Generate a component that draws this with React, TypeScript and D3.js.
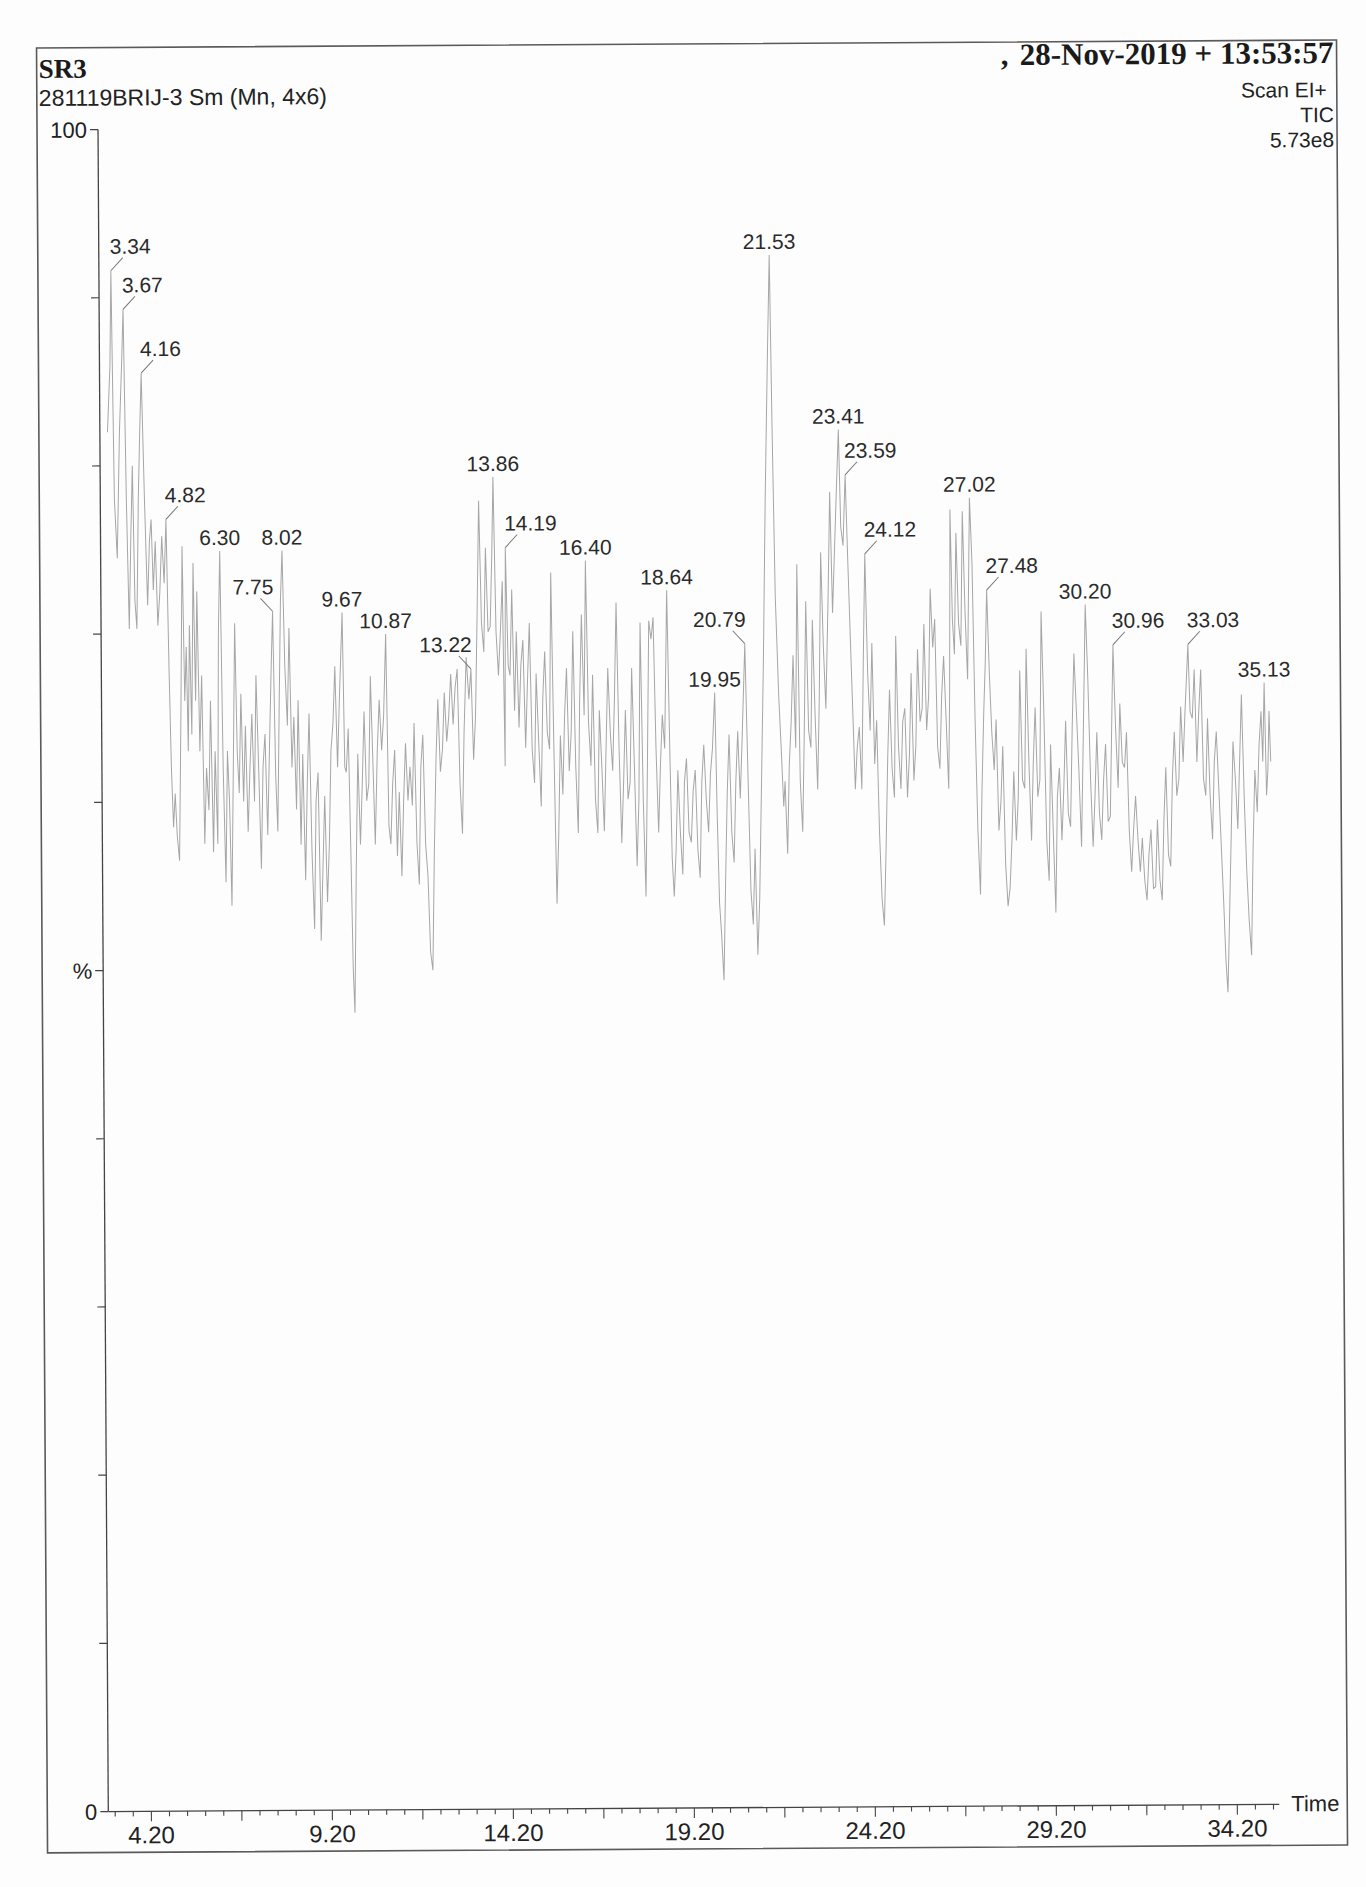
import React from 'react';
import * as d3 from 'd3';

const W = 1366, H = 1887;

// header texts
const titleText = 'SR3';
const sampleText = '281119BRIJ-3 Sm (Mn, 4x6)';
const dateText = '28-Nov-2019 + 13:53:57';
const scanLines = ['Scan EI+', 'TIC', '5.73e8'];

// axes
const xTickLabels = [4.2, 9.2, 14.2, 19.2, 24.2, 29.2, 34.2];
const yTicks = [0, 10, 20, 30, 40, 50, 60, 70, 80, 90, 100];
const yTickLabels = [
  { v: 0, text: '0' },
  { v: 50, text: '%' },
  { v: 100, text: '100' },
];

// labelled peaks: retention time, % height, where the label sits
const peakLabels = [
  { t: 3.34, v: 91.6, side: 'r' },
  { t: 3.67, v: 89.3, side: 'r' },
  { t: 4.16, v: 85.5, side: 'r' },
  { t: 4.82, v: 76.8, side: 'r' },
  { t: 6.30, v: 74.9, side: 'c' },
  { t: 7.75, v: 71.3, side: 'l' },
  { t: 8.02, v: 74.9, side: 'c' },
  { t: 9.67, v: 71.2, side: 'c' },
  { t: 10.87, v: 69.9, side: 'c' },
  { t: 13.22, v: 67.8, side: 'l' },
  { t: 13.86, v: 79.2, side: 'c' },
  { t: 14.19, v: 75.0, side: 'r' },
  { t: 16.40, v: 74.2, side: 'c' },
  { t: 18.64, v: 72.4, side: 'c' },
  { t: 19.95, v: 66.3, side: 'c' },
  { t: 20.79, v: 69.2, side: 'l' },
  { t: 21.53, v: 92.3, side: 'c' },
  { t: 23.41, v: 81.9, side: 'c' },
  { t: 23.59, v: 79.2, side: 'r' },
  { t: 24.12, v: 74.5, side: 'r' },
  { t: 27.02, v: 77.8, side: 'c' },
  { t: 27.48, v: 72.3, side: 'r' },
  { t: 30.20, v: 71.4, side: 'c' },
  { t: 30.96, v: 69.0, side: 'r' },
  { t: 33.03, v: 69.0, side: 'r' },
  { t: 35.13, v: 66.7, side: 'c' },
];

// TIC trace, [time, %]
const trace03to07 = [
  [3.22, 82], [3.30, 86], [3.34, 91.6], [3.40, 78], [3.47, 74.5], [3.55, 82], [3.62, 86], [3.67, 89.3],
  [3.73, 78], [3.79, 70.3], [3.85, 76], [3.90, 80], [3.95, 72], [4.00, 70.3], [4.06, 78], [4.11, 82],
  [4.16, 85.5], [4.23, 78], [4.30, 71.7], [4.36, 75.5], [4.41, 76.8], [4.46, 72.6], [4.52, 75.5], [4.58, 70.5],
  [4.64, 72.5], [4.70, 75.8], [4.76, 73], [4.82, 76.8], [4.88, 68], [4.93, 62], [4.98, 58.5], [5.03, 60.5],
  [5.08, 58], [5.14, 56.5], [5.20, 65], [5.26, 75.2], [5.31, 66], [5.36, 69.2], [5.40, 63], [5.45, 70.5],
  [5.50, 64], [5.56, 74.2], [5.61, 66], [5.66, 72.5], [5.72, 63], [5.78, 67.5], [5.84, 57.5], [5.90, 62],
  [5.96, 59.5], [6.02, 66], [6.08, 57], [6.14, 63], [6.20, 57.5], [6.25, 70], [6.30, 74.9], [6.36, 62],
  [6.42, 55.2], [6.48, 63], [6.53, 60], [6.58, 53.8], [6.64, 62], [6.70, 70.6], [6.75, 63], [6.80, 60.5],
  [6.86, 66.4], [6.92, 60], [6.98, 64.5],
];
const trace07to11 = [
  [7.04, 58.2], [7.10, 62], [7.16, 65.2], [7.22, 60], [7.28, 67.5], [7.34, 62], [7.40, 56], [7.46, 62],
  [7.52, 64], [7.58, 58], [7.64, 63], [7.70, 67.8], [7.75, 71.3], [7.81, 61.5], [7.86, 58.2], [7.92, 66],
  [7.97, 72], [8.02, 74.9], [8.08, 68], [8.14, 64.5], [8.20, 70.3], [8.26, 62], [8.32, 65], [8.38, 59.5],
  [8.44, 66], [8.50, 57.4], [8.56, 62.8], [8.62, 55.3], [8.68, 61], [8.74, 65.2], [8.80, 57], [8.86, 52.4],
  [8.92, 60], [8.98, 61.7], [9.04, 51.7], [9.10, 56], [9.16, 60.3], [9.22, 54], [9.28, 57.4], [9.34, 63],
  [9.40, 64.6], [9.46, 68], [9.52, 62], [9.58, 66], [9.67, 71.2], [9.72, 62], [9.76, 61.7], [9.82, 64.3],
  [9.87, 57.4], [9.92, 50], [9.96, 47.4], [10.02, 56], [10.08, 62.8], [10.14, 57.4], [10.20, 61], [10.26, 65.3],
  [10.32, 60], [10.38, 61], [10.44, 67.4], [10.50, 62], [10.55, 57.4], [10.62, 63], [10.68, 66], [10.74, 63],
  [10.80, 65], [10.87, 69.9], [10.93, 58.5], [10.98, 57.4],
];
const trace11to15 = [
  [11.04, 61], [11.10, 63], [11.16, 56.7], [11.22, 60.5], [11.28, 55.5], [11.34, 60], [11.40, 63.4], [11.46, 60],
  [11.52, 62], [11.58, 59.7], [11.64, 64.6], [11.70, 57.5], [11.76, 55], [11.82, 62], [11.88, 63.9], [11.94, 57.4],
  [12.00, 55.5], [12.06, 51], [12.12, 49.9], [12.18, 57], [12.24, 62.4], [12.30, 66], [12.36, 61.7], [12.42, 63],
  [12.48, 66.4], [12.54, 63.5], [12.60, 65], [12.66, 67.5], [12.72, 64.5], [12.78, 66.7], [12.84, 67.8], [12.90, 61],
  [12.96, 58], [13.02, 64], [13.09, 68.5], [13.16, 66], [13.22, 67.8], [13.28, 62.4], [13.34, 65], [13.40, 71],
  [13.46, 77.8], [13.52, 70.5], [13.58, 68.8], [13.64, 75], [13.70, 70], [13.76, 70.3], [13.82, 75], [13.86, 79.2],
  [13.92, 70], [13.98, 67.4], [14.04, 70], [14.10, 73], [14.15, 62], [14.19, 75], [14.25, 68], [14.30, 67.4],
  [14.36, 72.5], [14.42, 65.3], [14.48, 70], [14.54, 64.3], [14.60, 68], [14.66, 69.5], [14.72, 63.1], [14.78, 67],
  [14.84, 70.5], [14.90, 63], [14.96, 61],
];
const trace15to19 = [
  [15.02, 67.5], [15.08, 63.5], [15.14, 59.6], [15.20, 66], [15.26, 68.8], [15.32, 64], [15.38, 63], [15.44, 73.5],
  [15.50, 63], [15.56, 53.8], [15.62, 58], [15.68, 63.8], [15.74, 60.3], [15.80, 65], [15.86, 67.8], [15.92, 61.7],
  [15.98, 64], [16.04, 70], [16.10, 62], [16.16, 58], [16.22, 66], [16.28, 71], [16.34, 65], [16.40, 74.2],
  [16.46, 64.6], [16.52, 62], [16.58, 67.4], [16.64, 60], [16.70, 58], [16.76, 65.3], [16.82, 62], [16.88, 58.1],
  [16.94, 63], [17.00, 67.8], [17.06, 64], [17.12, 61.7], [17.18, 66], [17.24, 71.7], [17.30, 63], [17.36, 57.4],
  [17.42, 61], [17.48, 65.3], [17.54, 60], [17.60, 61], [17.66, 67.8], [17.72, 62], [17.78, 56], [17.84, 60],
  [17.90, 70.5], [17.96, 60], [18.02, 54.2], [18.08, 62], [18.14, 70.6], [18.20, 69.5], [18.26, 70.8], [18.32, 63],
  [18.38, 58], [18.44, 62], [18.50, 65], [18.56, 63], [18.64, 72.4], [18.70, 63], [18.75, 56.5], [18.80, 54.2],
  [18.86, 57], [18.92, 61.7], [18.98, 58],
];
const trace19to23 = [
  [19.04, 55.5], [19.10, 61], [19.16, 62.4], [19.22, 58], [19.28, 57.4], [19.34, 60.5], [19.40, 61.7], [19.46, 57],
  [19.52, 55.3], [19.58, 61], [19.64, 63.2], [19.70, 60], [19.76, 58], [19.82, 61.5], [19.88, 63], [19.95, 66.3],
  [20.00, 59], [20.05, 53.8], [20.10, 52], [20.16, 49.2], [20.22, 55], [20.28, 60.3], [20.34, 63.8], [20.40, 58],
  [20.46, 56.2], [20.52, 61], [20.58, 64], [20.64, 60], [20.70, 63.5], [20.79, 69.2], [20.86, 61], [20.92, 54.5],
  [20.98, 52.5], [21.04, 57], [21.10, 50.7], [21.16, 54], [21.22, 60], [21.30, 68], [21.38, 78], [21.46, 86],
  [21.53, 92.3], [21.58, 82], [21.64, 72], [21.72, 66], [21.78, 62.9], [21.84, 59.5], [21.88, 61], [21.94, 56.7],
  [22.00, 62], [22.06, 64.6], [22.12, 68.5], [22.18, 63], [22.24, 73.9], [22.30, 61], [22.36, 58], [22.42, 64],
  [22.48, 71.7], [22.54, 64], [22.60, 63], [22.66, 70.6], [22.72, 65], [22.78, 60.5], [22.84, 66], [22.90, 74.6],
  [22.96, 69],
];
const trace23to27 = [
  [23.02, 65.3], [23.10, 72], [23.16, 78.2], [23.22, 71], [23.28, 74.5], [23.34, 78], [23.41, 81.9], [23.46, 76.1],
  [23.52, 75], [23.59, 79.2], [23.65, 74], [23.70, 70], [23.76, 65.3], [23.82, 60.5], [23.88, 63], [23.94, 64.2],
  [24.00, 60.5], [24.06, 68], [24.12, 74.5], [24.18, 67.4], [24.24, 64], [24.30, 69.2], [24.36, 62], [24.42, 64.6],
  [24.48, 58], [24.54, 54], [24.60, 52.4], [24.66, 57], [24.72, 62.4], [24.78, 66.4], [24.84, 61.7], [24.90, 60],
  [24.96, 69.6], [25.02, 63], [25.08, 60.5], [25.14, 64.5], [25.20, 65.3], [25.26, 60], [25.32, 62.5], [25.38, 67.4],
  [25.44, 61], [25.50, 63.1], [25.56, 68.8], [25.62, 64.5], [25.68, 65.3], [25.74, 70.3], [25.80, 64], [25.86, 66],
  [25.92, 72.4], [25.98, 68.9], [26.04, 70.6], [26.10, 63], [26.16, 61.7], [26.22, 66], [26.28, 68.4], [26.34, 64.6],
  [26.40, 60.5], [26.44, 66], [26.48, 77.1], [26.53, 70.5], [26.58, 68.5], [26.64, 75.7], [26.70, 70.3], [26.76, 69],
  [26.82, 77], [26.88, 71], [26.94, 67],
];
const trace27to31 = [
  [27.02, 77.8], [27.08, 73.9], [27.14, 64.6], [27.20, 58], [27.26, 54.2], [27.32, 60.5], [27.38, 65], [27.43, 68],
  [27.48, 72.3], [27.54, 67.4], [27.60, 63.8], [27.66, 61.6], [27.72, 64.6], [27.78, 58], [27.84, 59.7], [27.90, 63],
  [27.96, 56], [28.02, 53.5], [28.08, 54.6], [28.14, 57.5], [28.20, 61.5], [28.26, 57.4], [28.32, 60], [28.38, 67.5],
  [28.44, 61], [28.50, 60.5], [28.56, 68.8], [28.62, 62], [28.68, 57.4], [28.74, 62], [28.80, 65.3], [28.86, 60],
  [28.92, 61], [28.98, 71], [29.04, 65], [29.10, 57.4], [29.16, 55], [29.22, 63.1], [29.28, 58], [29.34, 53.1],
  [29.40, 60], [29.46, 61.7], [29.52, 57.4], [29.58, 60.5], [29.64, 64.5], [29.70, 59], [29.76, 58.2], [29.82, 64],
  [29.88, 68.5], [29.94, 65], [30.00, 61.5], [30.06, 57], [30.12, 63], [30.20, 71.4], [30.26, 67], [30.32, 61],
  [30.38, 57], [30.44, 60], [30.50, 63.8], [30.56, 59], [30.62, 57.4], [30.68, 61], [30.74, 63.1], [30.80, 58.5],
  [30.86, 58.8], [30.92, 65], [30.96, 69.0],
];
const trace31to35 = [
  [31.02, 64], [31.08, 60.5], [31.14, 65.5], [31.20, 62], [31.26, 61.7], [31.32, 63.8], [31.38, 58], [31.44, 55.5],
  [31.50, 58], [31.56, 60], [31.62, 57.4], [31.68, 55.5], [31.74, 57.5], [31.80, 55], [31.86, 53.8], [31.92, 56.5],
  [31.98, 58], [32.04, 54.5], [32.10, 54.6], [32.16, 58.6], [32.22, 55], [32.28, 53.8], [32.34, 58.6], [32.40, 61.7],
  [32.46, 56.5], [32.52, 55.8], [32.58, 61], [32.64, 63.8], [32.70, 60], [32.76, 61], [32.82, 65.3], [32.88, 62],
  [32.94, 65], [33.03, 69.0], [33.08, 65], [33.14, 64.6], [33.20, 67.5], [33.26, 62], [33.32, 65], [33.38, 67.5],
  [33.44, 61], [33.50, 60], [33.56, 64.6], [33.62, 60], [33.68, 57.4], [33.74, 62], [33.80, 63.8], [33.86, 60.5],
  [33.92, 57], [33.98, 53.5], [34.03, 50.2], [34.08, 48.3], [34.14, 53], [34.20, 58], [34.26, 63.2], [34.32, 61],
  [34.38, 58], [34.44, 62], [34.50, 66], [34.56, 60], [34.62, 55.5], [34.68, 52.5], [34.74, 50.5], [34.80, 57],
  [34.86, 61.5], [34.92, 59], [34.98, 63], [35.04, 65], [35.08, 62], [35.13, 66.7], [35.18, 60], [35.22, 61.5],
  [35.26, 65], [35.30, 62],
];

const trace = [
  ...trace03to07, ...trace07to11, ...trace11to15, ...trace15to19,
  ...trace19to23, ...trace23to27, ...trace27to31, ...trace31to35,
];

const sans = '"Liberation Sans", Arial, sans-serif';
const serif = '"Liberation Serif", "Times New Roman", serif';

export default function App() {
  const x = d3.scaleLinear().domain([3.01, 35.36]).range([103, 1274]);
  const y = d3.scaleLinear().domain([0, 100]).range([1808, 126]);

  const line = d3.line<number[]>()
    .x(d => x(d[0]))
    .y(d => y(d[1]));

  const minorTicks = d3.range(3.2, 35.3, 0.5);
  const isMajor = (t: number) => Math.abs(((t - 4.2) / 2.5) - Math.round((t - 4.2) / 2.5)) < 0.01;

  return (
    <div style={{ position: 'absolute', left: 0, top: 0 }}>
      <svg width={W} height={H} style={{ display: 'block', background: '#fdfdfd' }}>
        <g transform="rotate(-0.35 683 943)">
          <rect x={42} y={44} width={1300} height={1805} fill="none" stroke="#5a5a5a" strokeWidth={1.6} />

          <text x={44} y={74} fontFamily={serif} fontWeight="bold" fontSize={27} fill="#1a1a1a">{titleText}</text>
          <text x={44} y={102} fontFamily={sans} fontSize={23} fill="#222">{sampleText}</text>

          <text x={1006} y={67} fontFamily={serif} fontWeight="bold" fontSize={31} fill="#1a1a1a">,</text>
          <text x={1339} y={67} textAnchor="end" fontFamily={serif} fontWeight="bold" fontSize={31} fill="#1a1a1a">{dateText}</text>
          {scanLines.map((s, i) => (
            <text key={s} x={i === 0 ? 1332 : 1339} y={101 + i * 25} textAnchor="end" fontFamily={sans} fontSize={21} fill="#222">{s}</text>
          ))}

          {/* y axis */}
          <line x1={x(3.01)} x2={x(3.01)} y1={y(100)} y2={y(0)} stroke="#444" strokeWidth={1.3} />
          {yTicks.map(v => (
            <line key={v} x1={x(3.01) - 8} x2={x(3.01)} y1={y(v)} y2={y(v)} stroke="#444" strokeWidth={1.2} />
          ))}
          {yTickLabels.map(d => (
            <text key={d.text} x={92} y={y(d.v) + 8} textAnchor="end" fontFamily={sans} fontSize={22} fill="#222">{d.text}</text>
          ))}

          {/* x axis */}
          <line x1={x(3.01)} x2={x(35.36)} y1={y(0)} y2={y(0)} stroke="#444" strokeWidth={1.3} />
          {minorTicks.map(t => (
            <line key={t} x1={x(t)} x2={x(t)} y1={y(0)} y2={y(0) + (isMajor(t) ? 10 : 5)} stroke="#444" strokeWidth={1.1} />
          ))}
          {xTickLabels.map(t => (
            <text key={t} x={x(t)} y={1840} textAnchor="middle" fontFamily={sans} fontSize={24} fill="#222">{t.toFixed(2)}</text>
          ))}
          <text x={1286} y={1815} fontFamily={sans} fontSize={22} fill="#222">Time</text>

          {/* trace */}
          <path d={line(trace as number[][]) || ''} fill="none" stroke="#a6a6a6" strokeWidth={1} />

          {/* peak labels */}
          {peakLabels.map(p => {
            const px = x(p.t), py = y(p.v);
            if (p.side === 'c') {
              return (
                <text key={p.t} x={px} y={py - 6} textAnchor="middle" fontFamily={sans} fontSize={21} fill="#2a2a2a">{p.t.toFixed(2)}</text>
              );
            }
            const dir = p.side === 'r' ? 1 : -1;
            return (
              <g key={p.t}>
                <line x1={px} y1={py} x2={px + dir * 12} y2={py - 13} stroke="#777" strokeWidth={1} />
                <text x={px - dir} y={py - 17} textAnchor={p.side === 'r' ? 'start' : 'end'} fontFamily={sans} fontSize={21} fill="#2a2a2a">{p.t.toFixed(2)}</text>
              </g>
            );
          })}
        </g>
      </svg>
    </div>
  );
}
